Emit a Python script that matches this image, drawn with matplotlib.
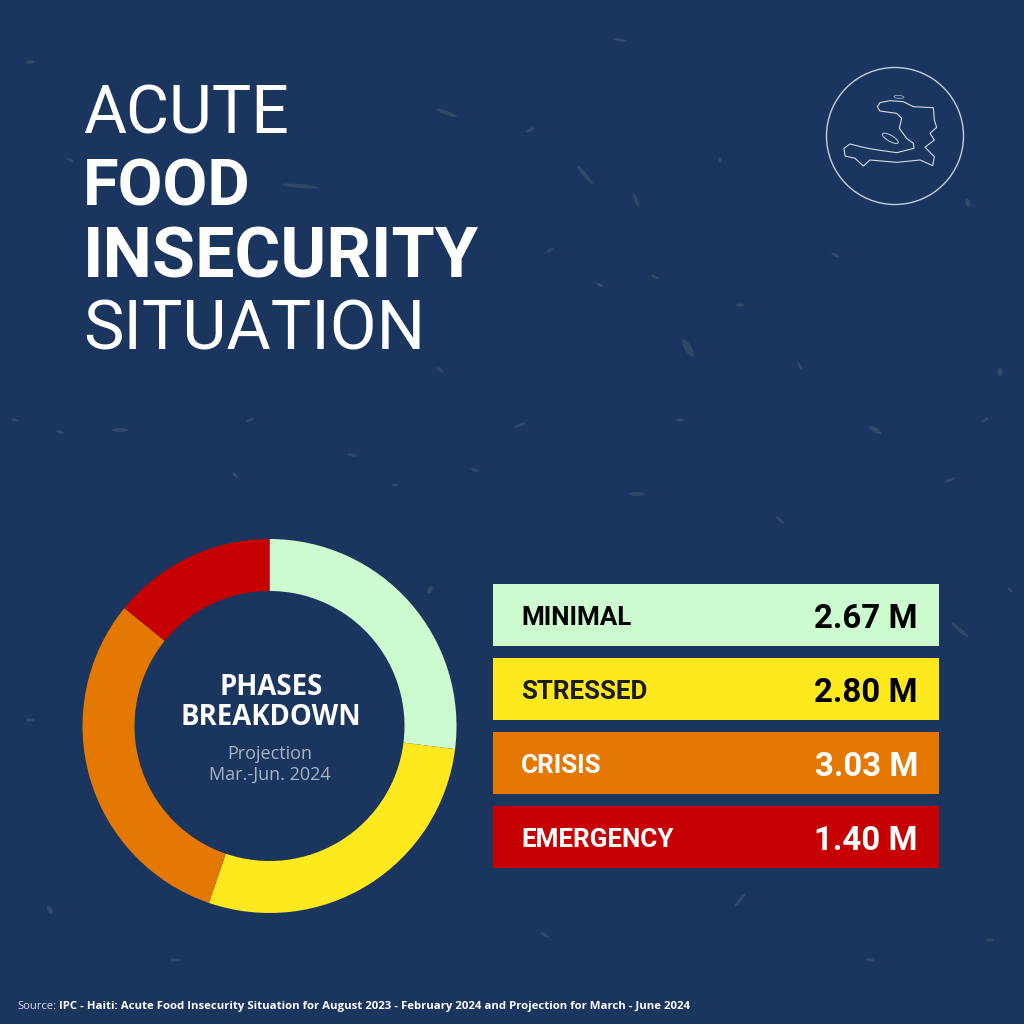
import matplotlib
matplotlib.use("Agg")
import matplotlib.pyplot as plt
from matplotlib.patches import Circle, Ellipse, Polygon, Rectangle

# Data
phases = ["MINIMAL", "STRESSED", "CRISIS", "EMERGENCY"]
people_m = [2.67, 2.80, 3.03, 1.40]
value_labels = ["2.67 M", "2.80 M", "3.03 M", "1.40 M"]
phase_colors = ["#CCFBD0", "#FDE91D", "#E57800", "#C60000"]
label_colors = ["#000000", "#1c1c1c", "#ffffff", "#ffffff"]
value_colors = ["#000000", "#000000", "#ffffff", "#ffffff"]

BG = "#1A365F"
SPECK = "#2F4868"
PX = 0.72  # points per pixel at dpi 100

fig = plt.figure(figsize=(10.24, 10.24), dpi=100, facecolor=BG)

# Overlay axes in pixel coordinates for the layout
ax = fig.add_axes([0, 0, 1, 1])
ax.set_xlim(0, 1024)
ax.set_ylim(1024, 0)
ax.axis("off")

# Background texture
specks = [(447,113,22,4,20),(585,175,24,4,50),(300,186,36,4,5),(636,200,14,3,70),(688,348,20,7,60),
          (655,277,9,3,30),(530,130,10,3,-30),(620,40,14,3,10),(30,62,9,4,0),(120,430,16,4,0),
          (60,432,8,3,20),(637,494,16,4,0),(985,420,9,3,-30),(1000,372,5,8,0),(430,590,5,8,30),
          (875,430,14,5,30),(780,520,12,3,40),(800,366,10,3,60),(520,425,12,3,-20),(352,455,10,3,10),
          (960,630,22,4,40),(968,203,5,9,-20),(835,255,9,3,30),(740,305,9,3,0),(600,285,8,3,30),
          (720,160,6,3,60),(50,910,9,5,60),(30,720,8,3,0),(175,960,10,3,0),(740,900,16,3,-50),
          (870,960,10,3,10),(990,940,8,3,0),(545,935,10,3,30),(1010,590,6,3,50),(680,420,7,3,0),
          (475,470,9,3,20),(250,420,8,3,-20),(440,370,8,3,40),(70,160,8,3,30),(950,480,12,3,-20),
          (550,250,8,3,-40),(395,485,6,3,0),(15,420,8,3,10),(235,475,7,3,50)]
for x, y, w, h, a in specks:
    ax.add_patch(Ellipse((x, y), w, h, angle=a, color=SPECK, lw=0, zorder=1))

# Title
title_lines = [("ACUTE", 133, "normal", 66), ("FOOD", 205, "bold", 65),
               ("INSECURITY", 277, "bold", 70), ("SITUATION", 350, "normal", 68)]
for s, y, w, size in title_lines:
    ax.text(83, y, s, color="white", family="Roboto", weight=w, fontsize=size * PX,
            ha="left", va="baseline", zorder=3)

# Emblem
ax.add_patch(Circle((895, 136), 68.5, fill=False, ec="#C5CEDA", lw=1.0, zorder=3))
outline_z = [(232,170),(240,158),(270,152),(310,155),(340,170),(400,173),(403,210),(410,232),(390,250),
             (403,270),(375,292),(403,320),(398,347),(360,330),(290,337),(210,330),(190,348),(165,325),
             (135,318),(132,295),(150,282),(190,292),(220,298),(290,308),(342,295),(340,280),(320,265),
             (298,235),(305,205),(290,190),(240,183)]
ax.add_patch(Polygon([(800 + x / 3, 50 + y / 3) for x, y in outline_z], closed=True, fill=False,
                     ec="#D5DBE4", lw=0.8, zorder=3))
ax.add_patch(Ellipse((890.3, 138.3), 18, 6, angle=30, fill=False, ec="#C5CEDA", lw=0.7, zorder=3))
ax.add_patch(Ellipse((899, 97), 10, 3, angle=5, fill=False, ec="#9FAABB", lw=0.6, zorder=3))

# Phase table
row_tops = [584, 658, 732, 806]
for name, val, c, lc, vc, y in zip(phases, value_labels, phase_colors, label_colors, value_colors, row_tops):
    ax.add_patch(Rectangle((493, y), 446, 62, color=c, lw=0, zorder=3))
    ax.text(521, y + 41, name, color=lc, family="Roboto", weight="bold", fontsize=26 * PX,
            ha="left", va="baseline", zorder=4)
    ax.text(918, y + 44, val, color=vc, family="Roboto", weight="bold",
            fontsize=33 * PX, ha="right", va="baseline", zorder=4)

# Source
t1 = ax.text(17, 1009, "Source:", color="#D8DEE7", family="Open Sans", fontsize=11.28 * PX,
             ha="left", va="baseline", zorder=4)
fig.canvas.draw()
bb = t1.get_window_extent()
ax.text(bb.x1 + 3, 1009,
        "IPC - Haiti: Acute Food Insecurity Situation for August 2023 - February 2024 and Projection for March - June 2024",
        color="white", family="Open Sans", weight="bold", fontsize=11.35 * PX, ha="left", va="baseline", zorder=4)

# Donut
cx, cy, R = 269.5, 726, 187
pie_ax = fig.add_axes([(cx - R) / 1024, 1 - (cy + R) / 1024, 2 * R / 1024, 2 * R / 1024])
pie_ax.pie(people_m, colors=phase_colors, startangle=90, counterclock=False, radius=1,
           wedgeprops=dict(width=52 / 187, linewidth=0))
pie_ax.set_xlim(-1, 1)
pie_ax.set_ylim(-1, 1)
pie_ax.set_zorder(5)

ax.set_zorder(6)
ax.patch.set_visible(False)
ax.text(271, 695, "PHASES", color="white", family="Open Sans", weight="bold", fontsize=27.5 * PX,
        ha="center", va="baseline", zorder=6)
ax.text(271, 725, "BREAKDOWN", color="white", family="Open Sans", weight="bold", fontsize=27.5 * PX,
        ha="center", va="baseline", zorder=6)
ax.text(270, 759, "Projection", color="#A9B3C2", family="Open Sans", fontsize=18 * PX,
        ha="center", va="baseline", zorder=6)
ax.text(270, 780, "Mar.-Jun. 2024", color="#A9B3C2", family="Open Sans", fontsize=18 * PX,
        ha="center", va="baseline", zorder=6)

fig.savefig("out.png", dpi=100, facecolor=BG)
